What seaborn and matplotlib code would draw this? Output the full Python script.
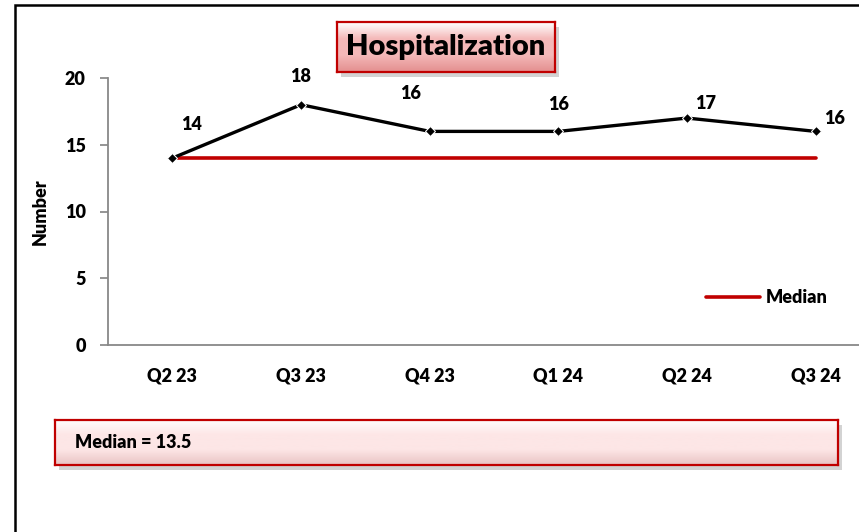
import numpy as np
import pandas as pd
import matplotlib
matplotlib.use("Agg")
import matplotlib.pyplot as plt
from matplotlib.colors import LinearSegmentedColormap
from matplotlib.patches import Rectangle
import seaborn as sns

# data
quarters = ["Q2 23", "Q3 23", "Q4 23", "Q1 24", "Q2 24", "Q3 24"]
hospitalizations = [14, 18, 16, 16, 17, 16]
median_line = [14, 14, 14, 14, 14, 14]
median_text = "Median = 13.5"
title = "Hospitalization"

# label nudges in pixels (Excel-like placement)
label_offsets = [(19, 34), (0, 28), (-19, 38), (0, 27), (19, 15), (19, 13)]

sns.set_theme(style="white")
plt.rcParams["font.family"] = ["Lato", "DejaVu Sans"]
plt.rcParams["font.weight"] = "bold"
plt.rcParams["text.color"] = "black"
plt.rcParams["axes.labelcolor"] = "black"

FS = 13
WT = "heavy"

W, H = 859, 532
fig = plt.figure(figsize=(W / 100, H / 100), dpi=100)


def fx(px):
    return px / W


def fy(py):
    return 1 - py / H


# outer frame (runs off the right/bottom edge)
fig.patches.append(Rectangle((fx(15), fy(600)), fx(900), fy(5) - fy(600),
                             transform=fig.transFigure, fill=False,
                             edgecolor="black", linewidth=1.8))

df = pd.DataFrame({"Quarter": quarters, "Number": hospitalizations, "Median": median_line})

ax_w = fx(880) - fx(108)
ax = fig.add_axes([fx(108), fy(345), ax_w, fy(78) - fy(345)])
sns.lineplot(data=df, x="Quarter", y="Median", ax=ax, color="#C00000", linewidth=2.6,
             label="Median", sort=False)
sns.lineplot(data=df, x="Quarter", y="Number", ax=ax, color="black", linewidth=2.4,
             marker="D", markersize=5, sort=False, legend=False)
ax.set_xlim(-0.5, 5.5)
ax.set_ylim(0, 20)
ax.set_yticks([0, 5, 10, 15, 20])
ax.set_xlabel("")
ax.set_ylabel("Number", fontsize=FS, fontweight=WT)
ax.yaxis.set_label_coords((49 - 108) / 772, 0.5)
for side in ["top", "right"]:
    ax.spines[side].set_visible(False)
for side in ["left", "bottom"]:
    ax.spines[side].set_color("#888888")
    ax.spines[side].set_linewidth(1.3)
ax.tick_params(axis="y", left=True, length=6, color="#888888", labelcolor="black",
               labelsize=FS, pad=10)
ax.tick_params(axis="x", bottom=False, labelcolor="black", labelsize=FS, pad=10)
for lab in ax.get_xticklabels() + ax.get_yticklabels():
    lab.set_fontweight(WT)

for i, (v, off) in enumerate(zip(hospitalizations, label_offsets)):
    ax.annotate(str(v), (i, v), xytext=off, textcoords="offset pixels",
                ha="center", va="center", fontsize=FS, fontweight=WT)

leg = ax.legend(loc="upper left", bbox_to_anchor=((690 - 108) / 772, 0.27),
                frameon=False, handlelength=3.0, handletextpad=0.3,
                prop={"size": FS, "weight": WT})


def bevel_box(x0, y0, x1, y1, top_col, bot_col, text, tx, fsize, ha="left"):
    # shadow
    fig.patches.append(Rectangle((fx(x0 + 4), fy(y1 + 5)), fx(x1 - x0), fy(y0) - fy(y1),
                                 transform=fig.transFigure, facecolor="#b0b0b0",
                                 edgecolor="none", alpha=0.55, zorder=1))
    bx = fig.add_axes([fx(x0), fy(y1), fx(x1) - fx(x0), fy(y0) - fy(y1)], zorder=2)
    grad = np.linspace(0, 1, 64).reshape(-1, 1)
    cmap = LinearSegmentedColormap.from_list("g", ["#ffffff", top_col, top_col, bot_col])
    bx.imshow(grad, aspect="auto", cmap=cmap, extent=[0, 1, 0, 1], origin="upper")
    bx.set_xticks([])
    bx.set_yticks([])
    for s in bx.spines.values():
        s.set_edgecolor("#C00000")
        s.set_linewidth(1.6)
    bx.text(tx, 0.5, text, transform=bx.transAxes, ha=ha, va="center",
            fontsize=fsize, fontweight=WT, color="black")


bevel_box(337, 22, 555, 72, "#F4B8B8", "#E48F8F", title, 0.5, 21, ha="center")
bevel_box(55, 420, 838, 465, "#FDE6E6", "#E9C4C4", median_text, 0.025, FS)

fig.savefig("out.png", dpi=100)
